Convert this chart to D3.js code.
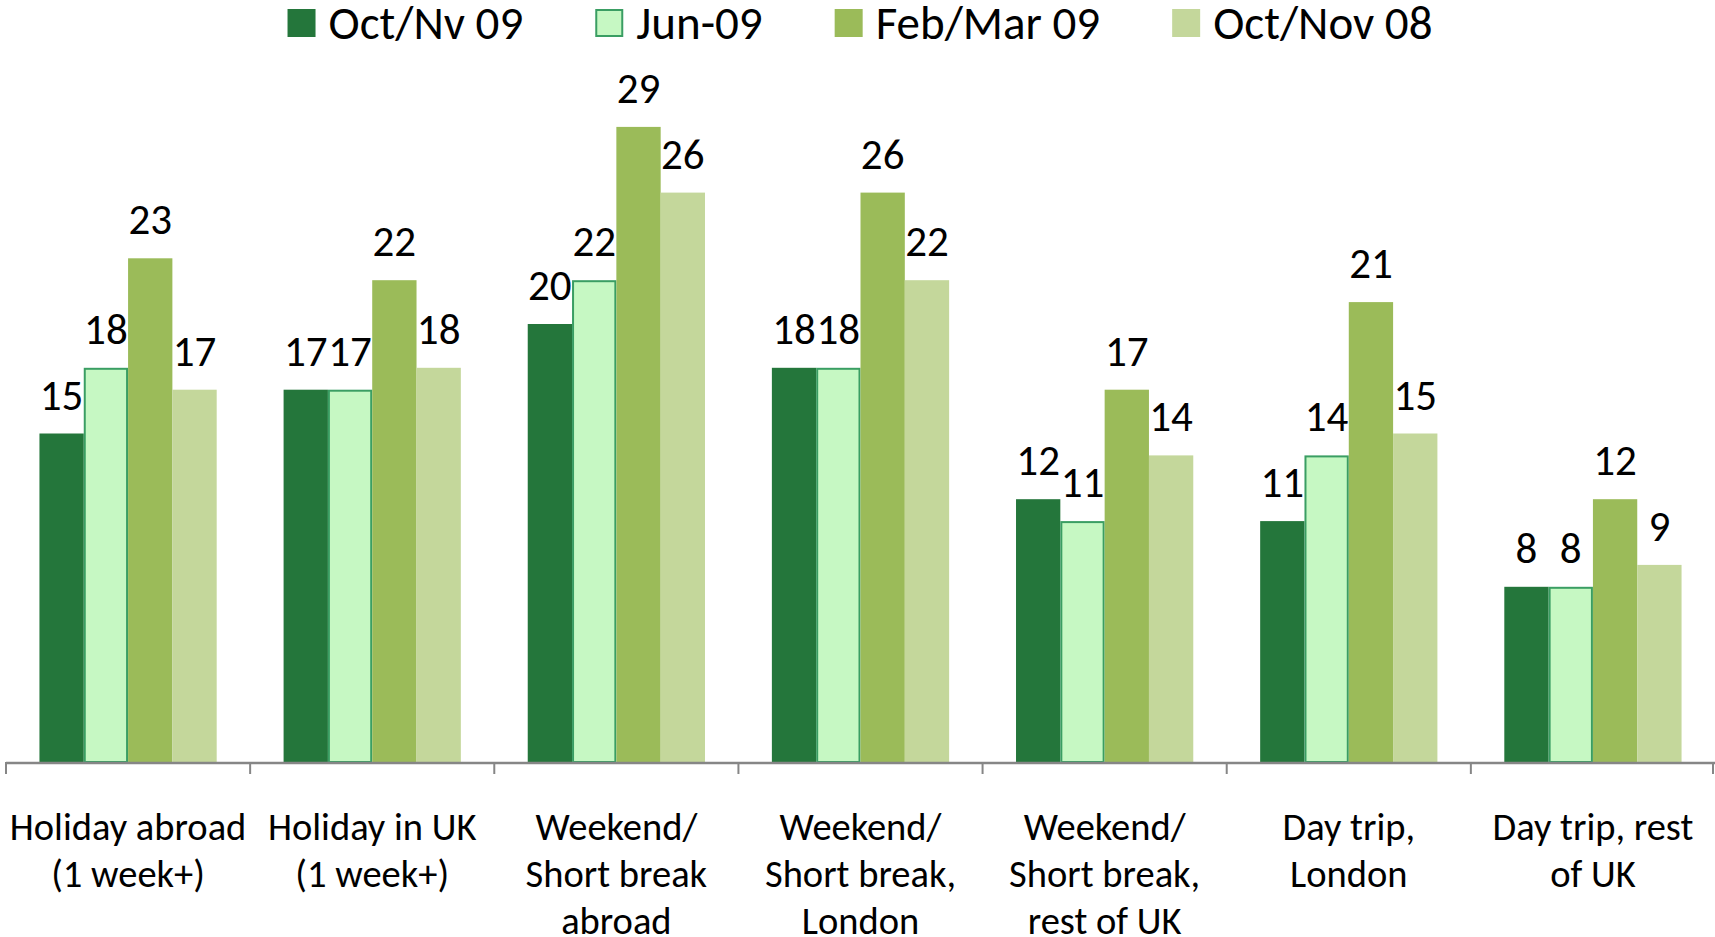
<!DOCTYPE html>
<html>
<head>
<meta charset="utf-8">
<script src="https://cdn.jsdelivr.net/npm/d3@7"></script>
<style>
  html, body { margin: 0; padding: 0; background: #fff; }
  svg { display: block; font-family: Carlito, Calibri, Lato, sans-serif; }
</style>
</head>
<body>
<svg id="chart" width="1715" height="937"></svg>
<script>
// categories (label lines) and series
const categories = [
    ["Holiday abroad", "(1 week+)"],
    ["Holiday in UK", "(1 week+)"],
    ["Weekend/", "Short break", "abroad"],
    ["Weekend/", "Short break,", "London"],
    ["Weekend/", "Short break,", "rest of UK"],
    ["Day trip,", "London"],
    ["Day trip, rest", "of UK"]
];
const seriesNames = ["Oct/Nv 09", "Jun-09", "Feb/Mar 09", "Oct/Nov 08"];
const octNv09 = [15, 17, 20, 18, 12, 11, 8];
const jun09 = [18, 17, 22, 18, 11, 14, 8];
const febMar09 = [23, 22, 29, 26, 17, 21, 12];
const octNov08 = [17, 18, 26, 22, 14, 15, 9];

const seriesValues = [octNv09, jun09, febMar09, octNov08];
const colors = ["#24763B", "#C6F8C3", "#9BBB59", "#C4D79B"];
const strokes = [null, "#3A9E63", null, null];

const svg = d3.select("#chart");

/* ------------------------------
   SCALES
------------------------------ */

const baseY = 762;
const y = d3.scaleLinear().domain([0, 30]).range([baseY, baseY - 30 * 21.9]);

const x0 = d3.scaleBand()
    .domain(d3.range(categories.length))
    .range([6, 1715])
    .paddingInner(0.274)
    .paddingOuter(0.137);

const x1 = d3.scaleBand()
    .domain(d3.range(seriesNames.length))
    .range([0, x0.bandwidth()]);

/* ------------------------------
   BARS
------------------------------ */

const groups = svg.selectAll("g.group")
    .data(categories)
    .enter()
    .append("g")
    .attr("class", "group")
    .attr("transform", (d, i) => `translate(${x0(i)},0)`);

groups.each(function (cat, ci) {
    const g = d3.select(this);
    seriesValues.forEach((vals, si) => {
        const v = vals[ci];
        const bx = x1(si);
        const bw = x1.bandwidth();
        if (strokes[si]) {
            g.append("rect")
                .attr("x", bx + 1)
                .attr("y", y(v) + 1)
                .attr("width", bw - 2)
                .attr("height", baseY - y(v) - 1)
                .attr("fill", colors[si])
                .attr("stroke", strokes[si])
                .attr("stroke-width", 2);
        } else {
            g.append("rect")
                .attr("x", bx)
                .attr("y", y(v))
                .attr("width", bw)
                .attr("height", baseY - y(v))
                .attr("fill", colors[si]);
        }
        g.append("text")
            .attr("x", bx + bw / 2)
            .attr("y", y(v) - 24)
            .attr("text-anchor", "middle")
            .style("font-size", "43px")
            .style("fill", "#000")
            .text(v);
    });
});

/* ------------------------------
   X AXIS
------------------------------ */

const axisColor = "#868686";

svg.append("line")
    .attr("x1", 6).attr("x2", 1715)
    .attr("y1", baseY + 1).attr("y2", baseY + 1)
    .attr("stroke", axisColor)
    .attr("stroke-width", 2.5);

const step = x0.step();
const tickXs = d3.range(categories.length + 1).map(i => 6 + i * step);

svg.selectAll("line.tick")
    .data(tickXs)
    .enter()
    .append("line")
    .attr("class", "tick")
    .attr("x1", d => Math.min(d, 1713)).attr("x2", d => Math.min(d, 1713))
    .attr("y1", baseY).attr("y2", baseY + 12)
    .attr("stroke", axisColor)
    .attr("stroke-width", 2);

svg.selectAll("text.cat")
    .data(categories)
    .enter()
    .append("text")
    .attr("class", "cat")
    .attr("text-anchor", "middle")
    .attr("transform", (d, i) => `translate(${x0(i) + x0.bandwidth() / 2},840)`)
    .style("font-size", "38.5px")
    .style("fill", "#000")
    .each(function (lines) {
        const t = d3.select(this);
        lines.forEach((line, li) => {
            t.append("tspan")
                .attr("x", 0)
                .attr("y", li * 47)
                .text(line);
        });
    });

/* ------------------------------
   LEGEND
------------------------------ */

const legend = svg.append("g");
const sq = 28, gapIn = 13, gapOut = 72;
let lx = 0;

seriesNames.forEach((name, si) => {
    const item = legend.append("g").attr("transform", `translate(${lx},0)`);
    if (strokes[si]) {
        item.append("rect")
            .attr("x", 1).attr("y", 10)
            .attr("width", sq - 2).attr("height", sq - 2)
            .attr("fill", colors[si])
            .attr("stroke", strokes[si])
            .attr("stroke-width", 2);
    } else {
        item.append("rect")
            .attr("x", 0).attr("y", 9)
            .attr("width", sq).attr("height", sq)
            .attr("fill", colors[si]);
    }
    const txt = item.append("text")
        .attr("x", sq + gapIn)
        .attr("y", 39)
        .style("font-size", "47px")
        .style("fill", "#000")
        .text(name);
    lx += sq + gapIn + txt.node().getComputedTextLength() + gapOut;
});

const legendW = lx - gapOut;
legend.attr("transform", `translate(${860 - legendW / 2},0)`);
</script>
</body>
</html>
